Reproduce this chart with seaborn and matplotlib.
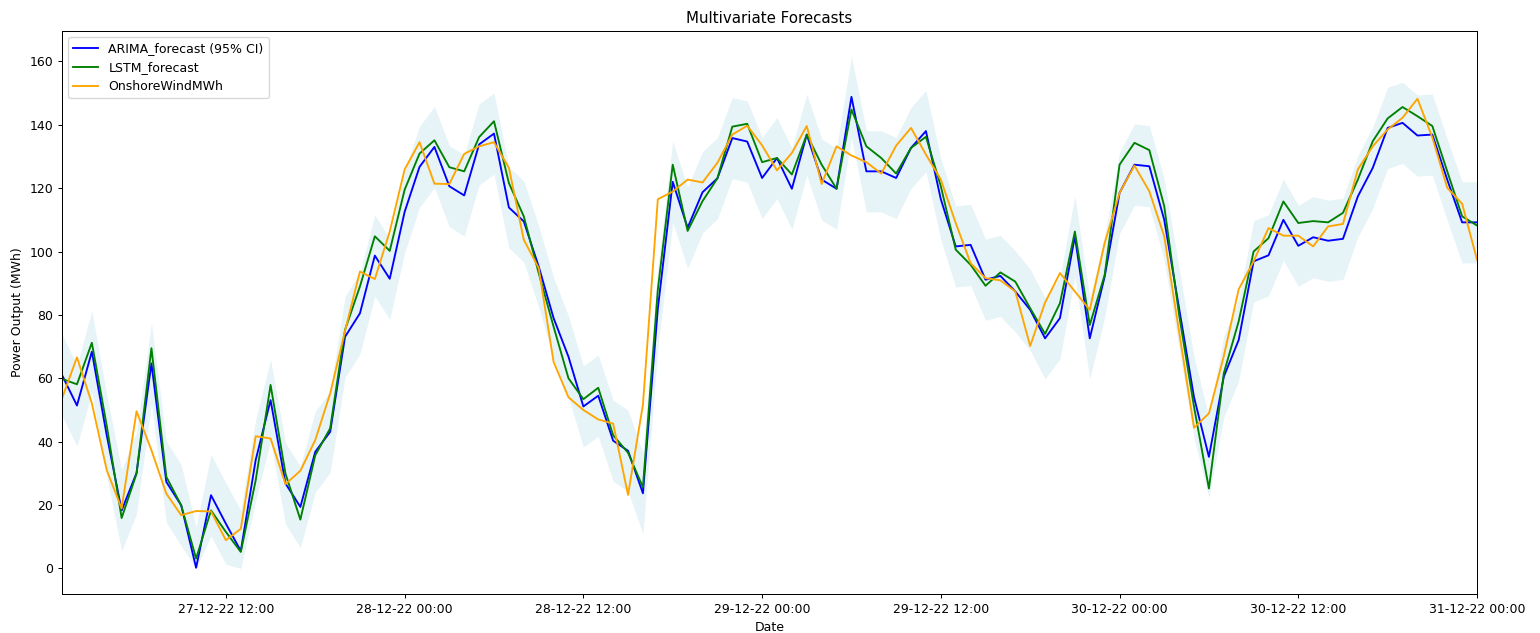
import numpy as np
import pandas as pd
import matplotlib
matplotlib.use("Agg")
import matplotlib.pyplot as plt
import matplotlib.dates as mdates
import seaborn as sns

# ---------------- data (hourly, 27-12-22 01:00 -> 31-12-22 00:00) ----------------
start_time = "2022-12-27 01:00"
n_hours = 96

arima_forecast = [
    61.0, 51.4, 68.4, 42.0, 18.3, 30.1, 64.7, 27.3, 19.9, 0.2,
    23.1, 14.1, 5.5, 34.2, 53.1, 26.8, 19.4, 36.8, 43.1, 73.1,
    80.5, 98.7, 91.4, 112.5, 126.7, 133.0, 120.6, 117.7, 133.8, 137.2,
    113.9, 109.5, 95.3, 79.0, 66.8, 51.1, 54.5, 40.3, 37.1, 23.7,
    82.0, 122.0, 107.5, 118.7, 123.1, 135.8, 134.7, 123.2, 129.5, 119.8,
    136.9, 122.7, 119.8, 148.8, 125.3, 125.3, 123.2, 132.7, 138.0, 116.5,
    101.6, 102.1, 91.1, 92.3, 87.4, 81.6, 72.6, 79.0, 104.8, 72.6,
    92.1, 118.5, 127.4, 126.9, 110.0, 82.0, 54.0, 35.2, 60.5, 72.1,
    96.9, 98.8, 110.0, 101.8, 104.5, 103.4, 104.0, 117.4, 126.4, 139.0,
    140.6, 136.6, 136.9, 122.7, 109.2, 109.2,
]

arima_ci_lower = [
    48.2, 38.6, 55.6, 29.2, 5.5, 17.3, 51.9, 14.5, 7.1, 0.0,
    10.3, 1.3, 0.0, 21.4, 40.3, 14.0, 6.6, 24.0, 30.3, 60.3,
    67.7, 85.9, 78.6, 99.7, 113.9, 120.2, 107.8, 104.9, 121.0, 124.4,
    101.1, 96.7, 82.5, 66.2, 54.0, 38.3, 41.7, 27.5, 24.3, 10.9,
    69.2, 109.2, 94.7, 105.9, 110.3, 123.0, 121.9, 110.4, 116.7, 107.0,
    124.1, 109.9, 107.0, 136.0, 112.5, 112.5, 110.4, 119.9, 125.2, 103.7,
    88.8, 89.3, 78.3, 79.5, 74.6, 68.8, 59.8, 66.2, 92.0, 59.8,
    79.3, 105.7, 114.6, 114.1, 97.2, 69.2, 41.2, 22.4, 47.7, 59.3,
    84.1, 86.0, 97.2, 89.0, 91.7, 90.6, 91.2, 104.6, 113.6, 126.2,
    127.8, 123.8, 124.1, 109.9, 96.4, 96.4,
]

arima_ci_upper = [
    73.8, 64.2, 81.2, 54.8, 31.1, 42.9, 77.5, 40.1, 32.7, 13.0,
    35.9, 26.9, 18.3, 47.0, 65.9, 39.6, 32.2, 49.6, 55.9, 85.9,
    93.3, 111.5, 104.2, 125.3, 139.5, 145.8, 133.4, 130.5, 146.6, 150.0,
    126.7, 122.3, 108.1, 91.8, 79.6, 63.9, 67.3, 53.1, 49.9, 36.5,
    94.8, 134.8, 120.3, 131.5, 135.9, 148.6, 147.5, 136.0, 142.3, 132.6,
    149.7, 135.5, 132.6, 161.6, 138.1, 138.1, 136.0, 145.5, 150.8, 129.3,
    114.4, 114.9, 103.9, 105.1, 100.2, 94.4, 85.4, 91.8, 117.6, 85.4,
    104.9, 131.3, 140.2, 139.7, 122.8, 94.8, 66.8, 48.0, 73.3, 84.9,
    109.7, 111.6, 122.8, 114.6, 117.3, 116.2, 116.8, 130.2, 139.2, 151.8,
    153.4, 149.4, 149.7, 135.5, 122.0, 122.0,
]

lstm_forecast = [
    59.8, 58.1, 71.2, 45.0, 15.9, 29.9, 69.5, 28.9, 19.9, 3.1,
    18.3, 11.5, 5.2, 27.8, 57.9, 29.9, 15.4, 35.7, 44.2, 75.3,
    89.0, 104.8, 100.2, 119.5, 130.9, 135.1, 126.6, 125.3, 136.1, 141.1,
    121.6, 111.1, 93.2, 76.3, 60.0, 53.4, 57.0, 42.0, 36.5, 25.6,
    88.0, 127.4, 106.5, 115.9, 123.1, 139.4, 140.3, 128.2, 129.5, 124.3,
    136.9, 127.4, 119.8, 144.8, 133.2, 129.5, 124.6, 132.7, 136.2, 120.6,
    100.6, 95.8, 89.2, 93.4, 90.5, 82.1, 74.0, 83.7, 106.3, 76.8,
    92.6, 127.4, 134.3, 132.0, 114.3, 80.0, 51.0, 25.2, 61.6, 78.0,
    100.0, 104.2, 115.8, 109.0, 109.6, 109.2, 112.2, 122.7, 134.8, 142.0,
    145.6, 142.7, 139.6, 125.3, 111.1, 108.2,
]

onshore_wind_mwh = [
    53.7, 66.6, 52.1, 31.0, 18.9, 49.6, 37.3, 23.6, 16.8, 18.1,
    18.0, 8.9, 12.5, 41.7, 41.0, 26.6, 30.8, 40.5, 55.2, 75.0,
    93.7, 91.3, 106.3, 125.9, 134.5, 121.4, 121.3, 130.8, 133.2, 134.5,
    126.4, 103.7, 94.8, 65.2, 54.0, 50.0, 47.0, 45.7, 23.2, 51.7,
    116.5, 118.9, 122.7, 121.8, 128.0, 136.9, 139.7, 133.5, 125.6, 131.1,
    139.6, 121.3, 133.2, 130.3, 128.2, 124.6, 133.4, 139.0, 130.6, 122.7,
    109.0, 96.3, 91.6, 90.9, 87.4, 70.2, 83.9, 93.2, 87.4, 81.6,
    102.7, 118.5, 127.1, 119.0, 104.8, 74.6, 44.4, 48.9, 67.0, 88.1,
    96.9, 107.4, 105.0, 105.0, 101.6, 107.9, 108.7, 125.9, 133.2, 138.5,
    142.2, 148.2, 136.0, 120.1, 115.1, 97.4,
]

series_labels = ["ARIMA_forecast (95% CI)", "LSTM_forecast", "OnshoreWindMWh"]
series_colors = ["blue", "green", "orange"]

# ---------------- figure ----------------
dates = pd.date_range(start_time, periods=n_hours, freq="h")
df = pd.DataFrame({
    "Date": dates,
    "arima": arima_forecast,
    "lower": arima_ci_lower,
    "upper": arima_ci_upper,
    "lstm": lstm_forecast,
    "onshore": onshore_wind_mwh,
})

DPI = 90
fig, ax = plt.subplots(figsize=(1540 / DPI, 633 / DPI), dpi=DPI)
fig.subplots_adjust(left=0.0403, right=0.9591, top=0.9515, bottom=0.0616)

ax.fill_between(df["Date"], df["lower"], df["upper"], color="lightblue", alpha=0.3, linewidth=0)
for col, lab, colr in zip(["arima", "lstm", "onshore"], series_labels, series_colors):
    sns.lineplot(data=df, x="Date", y=col, ax=ax, color=colr, label=lab, linewidth=1.5)

ax.set_xlim(dates[0], dates[-1])
ax.xaxis.set_major_locator(mdates.HourLocator(byhour=[0, 12]))
ax.xaxis.set_major_formatter(mdates.DateFormatter("%d-%m-%y %H:%M"))
ax.set_title("Multivariate Forecasts")
ax.set_xlabel("Date")
ax.set_ylabel("Power Output (MWh)")
ax.legend(loc="upper left")

fig.savefig("out.png", dpi=DPI)
